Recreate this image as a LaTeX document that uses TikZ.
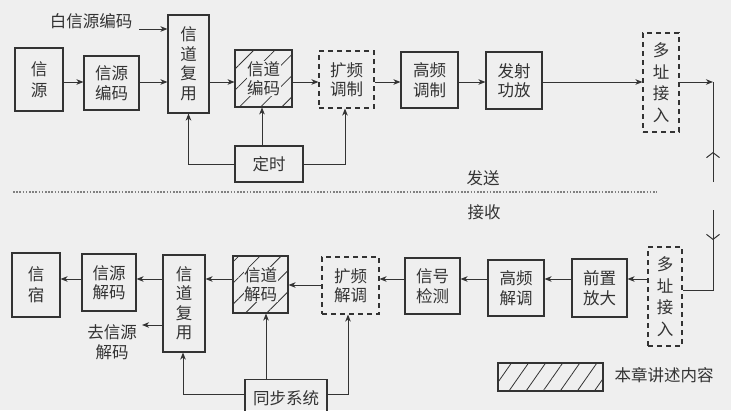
\documentclass[tikz,border=0pt]{standalone}
\usepackage{fontspec}
\setmainfont{Noto Sans CJK SC}
\usetikzlibrary{arrows.meta,patterns.meta}
\definecolor{bg}{HTML}{EFEFEF}
\definecolor{ink}{HTML}{333333}
\begin{document}
\begin{tikzpicture}[x=1pt,y=-1pt,
  box/.style={draw=ink,line width=1.1pt,align=center,inner sep=0pt,text=ink,font=\fontsize{16.5}{19.5}\selectfont},
  dbox/.style={box,dash pattern=on 5pt off 4pt},
  hbox/.style={box,pattern={Lines[angle=45,distance=15pt,line width=0.8pt]},pattern color=ink},
  arr/.style={draw=ink,line width=1pt,-{Stealth[length=7pt,width=5.5pt,inset=2pt]}},
  ln/.style={draw=ink,line width=1pt},
  barb/.style={draw=ink,line width=1pt,-{Straight Barb[length=5pt,width=13pt]}},
  lbl/.style={text=ink,font=\fontsize{16.5}{19.5}\selectfont,align=center,inner sep=0pt}]
\useasboundingbox (0,0) rectangle (731,410);
\fill[bg] (0,0) rectangle (731,410);
% ---------- top (send) ----------
\coordinate (ty) at (0,82);
\node[box,minimum width=48pt,minimum height=63pt,font=\fontsize{16.5}{21}\selectfont] (xy) at (39,79.5) {信\\源};
\node[box,minimum width=55pt,minimum height=54pt] (xybm) at (111.5,83) {信源\\编码};
\node[box,minimum width=41pt,minimum height=98pt] (xdfy1) at (188.5,64) {信\\道\\复\\用};
\node[hbox,minimum width=57pt,minimum height=57pt] (xdbm) at (263.5,78.5) {};
\node[lbl,fill=bg,inner sep=0.5pt] (xdbmt) at (xdbm) {信道\\编码};
\node[dbox,minimum width=55pt,minimum height=57pt] (kptz) at (346.5,79.5) {扩频\\调制};
\node[box,minimum width=57pt,minimum height=56pt] (gptz) at (429.5,80) {高频\\调制};
\node[box,minimum width=56pt,minimum height=57pt] (fsgf) at (514,80.5) {发射\\功放};
\node[dbox,minimum width=36pt,minimum height=99pt,font=\fontsize{16.5}{21.5}\selectfont] (dzjr1) at (661,82.5) {多\\址\\接\\入};
\node[box,minimum width=68pt,minimum height=36pt] (ds) at (269,164) {定时};
\node[lbl] (bxy) at (91,21) {白信源编码};
\coordinate (bxyend) at (139,29);
\draw[arr] (bxyend) -- (xdfy1.west |- bxyend);
\draw[arr] (xy.east |- ty) -- (xybm.west |- ty);
\draw[arr] (xybm.east |- ty) -- (xdfy1.west |- ty);
\draw[arr] (xdfy1.east |- ty) -- (xdbm.west |- ty);
\draw[arr] (xdbm.east |- ty) -- (kptz.west |- ty);
\draw[arr] (kptz.east |- ty) -- (gptz.west |- ty);
\draw[arr] (gptz.east |- ty) -- (fsgf.west |- ty);
\draw[arr] (fsgf.east |- ty) -- (dzjr1.west |- ty);
\coordinate (tr) at (713,82);
\coordinate (trb) at (713,182);
\coordinate (tup) at (713,152);
\draw[arr] (dzjr1.east |- ty) -- (tr);
\draw[ln] (tr) -- (trb);
\draw[barb] (trb) -- (tup);
\draw[arr] (ds.west) -| (xdfy1.south);
\draw[arr] ([xshift=-1.5pt]ds.north -| xdbm.south) -- ([xshift=-1.5pt]xdbm.south);
\draw[arr] (ds.east) -| ([xshift=-1.5pt]kptz.south);
% ---------- separator ----------
\coordinate (sepl) at (13,192);
\coordinate (sepr) at (657,192);
\draw[gray,line width=1.3pt,dash pattern=on 1.6pt off 1.6pt] (sepl) -- (sepr);
\node[lbl] (fs) at (483,178) {发送};
\node[lbl] (js) at (484,212) {接收};
% ---------- bottom (receive) ----------
\coordinate (by) at (0,279);
\coordinate (by2) at (0,285);
\coordinate (sy) at (0,394);
\node[box,minimum width=48pt,minimum height=64pt,font=\fontsize{16.5}{21}\selectfont] (xs) at (36,285) {信\\宿};
\node[box,minimum width=54pt,minimum height=57pt] (xyjm) at (109,282.5) {信源\\解码};
\node[box,minimum width=42pt,minimum height=97pt] (xdfy2) at (184,303.5) {信\\道\\复\\用};
\node[hbox,minimum width=55pt,minimum height=57pt] (xdjm) at (260.5,284.5) {};
\node[lbl,fill=bg,inner sep=0.5pt] (xdjmt) at (xdjm) {信道\\解码};
\node[dbox,minimum width=57pt,minimum height=57pt] (kpjt) at (350.5,285.5) {扩频\\解调};
\node[box,minimum width=55pt,minimum height=56pt] (xhjc) at (432.5,286) {信号\\检测};
\node[box,minimum width=56pt,minimum height=56pt] (gpjt) at (516,288) {高频\\解调};
\node[box,minimum width=55pt,minimum height=58pt] (qzfd) at (599.5,288) {前置\\放大};
\node[dbox,minimum width=34pt,minimum height=99pt,font=\fontsize{16.5}{21.5}\selectfont] (dzjr2) at (665,296.5) {多\\址\\接\\入};
\node[box,minimum width=82pt,minimum height=38pt,anchor=north] (tbxt) at (286,379) {同步系统};
\node[lbl] (qxy) at (112,342) {去信源\\解码};
\coordinate (qend) at (142,325);
\draw[arr] (xdfy2.west |- qend) -- (qend);
\draw[arr] (xyjm.west |- by) -- (xs.east |- by);
\draw[arr] (xdfy2.west |- by) -- (xyjm.east |- by);
\draw[arr] (xdjm.west |- by) -- (xdfy2.east |- by);
\draw[arr] (kpjt.west |- by2) -- (xdjm.east |- by2);
\draw[arr] (xhjc.west |- by) -- (kpjt.east |- by);
\draw[arr] (gpjt.west |- by) -- (xhjc.east |- by);
\draw[arr] (qzfd.west |- by) -- (gpjt.east |- by);
\draw[arr] (dzjr2.west |- by) -- (qzfd.east |- by);
\coordinate (brt) at (713,210);
\coordinate (brc) at (713,290);
\coordinate (bdn) at (713,240);
\draw[ln] (brt) -- (brc) -- (dzjr2.east |- brc);
\draw[barb] (brt) -- (bdn);
\draw[arr] (tbxt.west |- sy) -| ([xshift=-1pt]xdfy2.south);
\draw[arr] ([xshift=5.5pt]tbxt.north -| xdjm.south) -- ([xshift=5.5pt]xdjm.south);
\draw[arr] (tbxt.east |- sy) -| ([xshift=-2.5pt]kpjt.south);
% ---------- legend ----------
\node[draw=ink,line width=1.1pt,minimum width=105pt,minimum height=28pt,inner sep=0pt,
      pattern={Lines[angle=55,distance=14pt,line width=0.8pt]},pattern color=ink] (leg) at (550.5,377) {};
\node[lbl] (legt) at (664,375) {本章讲述内容};
\end{tikzpicture}
\end{document}
